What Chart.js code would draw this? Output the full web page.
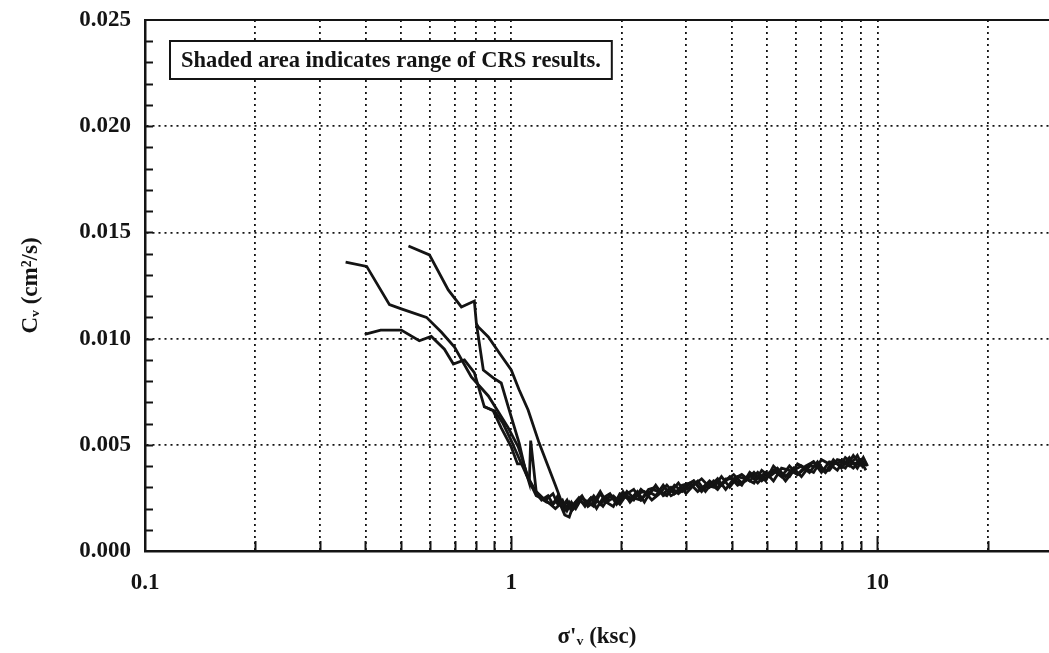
<!DOCTYPE html>
<html>
<head>
<meta charset="utf-8">
<title>Cv vs effective vertical stress</title>
<script src="https://cdn.jsdelivr.net/npm/chart.js@4.4.1/dist/chart.umd.min.js"></script>
<style>
  html, body { margin: 0; padding: 0; background: #fff; overflow: hidden; }
  #wrap { width: 1049px; height: 653px; }
</style>
</head>
<body>
<div id="wrap"><canvas id="cv-chart" width="1049" height="653"></canvas></div>
<script>
(function () {
  "use strict";

  const INK = "#141414";
  const SERIF = '"Liberation Serif", "DejaVu Serif", serif';

  // axes (sigma'v in ksc on a log axis, Cv in cm2/s)
  const X_MIN = 0.1;
  const X_MAX = 29.4; // plot is cut at the right edge of the page
  const X_GRID = [0.1, 0.2, 0.3, 0.4, 0.5, 0.6, 0.7, 0.8, 0.9, 1, 2, 3, 4, 5, 6, 7, 8, 9, 10, 20];
  const X_TICK_VALUES = [0.1, 1, 10];
  const X_TICK_LABELS = ["0.1", "1", "10"];
  const Y_MIN = 0;
  const Y_MAX = 0.025;
  const Y_MINOR_STEP = 0.001;
  const Y_MAJOR_STEP = 0.005;
  const Y_TICK_LABELS = ["0.000", "0.005", "0.010", "0.015", "0.020", "0.025"];

  const NOTE_TEXT = "Shaded area indicates range of CRS results.";

  // CRS curves. Each curve = a descending head + a noisy tail.
  // Two sampling grids for the tails so the traces do not all break at the same stresses.
  const FLAT_SIGMA_A = [1.30, 1.34, 1.38, 1.42, 1.46, 1.50, 1.56, 1.62, 1.68, 1.75,
    1.82, 1.90, 1.98, 2.07, 2.16, 2.26, 2.37, 2.48, 2.60, 2.73,
    2.86, 3.00, 3.15, 3.31, 3.48, 3.66, 3.85, 4.05, 4.26, 4.48,
    4.71, 4.95, 5.20, 5.47, 5.75, 6.05, 6.36, 6.69, 7.03, 7.39,
    7.77, 8.17, 8.59, 9.03, 9.30];
  const FLAT_SIGMA_B = [1.32, 1.36, 1.40, 1.44, 1.48, 1.53, 1.59, 1.65, 1.71, 1.78,
    1.86, 1.94, 2.02, 2.11, 2.21, 2.31, 2.42, 2.54, 2.66, 2.79,
    2.93, 3.07, 3.23, 3.39, 3.57, 3.75, 3.95, 4.15, 4.37, 4.60,
    4.83, 5.07, 5.33, 5.61, 5.90, 6.20, 6.52, 6.86, 7.21, 7.58,
    7.97, 8.38, 8.81, 9.15, 9.40];

  const C1_SIGMA = [0.353, 0.403, 0.465, 0.501, 0.587, 0.645, 0.700, 0.778, 0.866, 0.981, 1.045, 1.13, 1.21, 1.26];
  const C1_CV = [0.0136, 0.0134, 0.0116, 0.0114, 0.0110, 0.0103, 0.0096, 0.0082, 0.0073, 0.0058, 0.0049, 0.0031, 0.0024, 0.0026];
  const C1_FLAT = [0.0022, 0.0026, 0.0021, 0.0024, 0.0019, 0.0023, 0.0026, 0.0021, 0.0023, 0.0028,
    0.0023, 0.0021, 0.0027, 0.0026, 0.0024, 0.0029, 0.0026, 0.0031, 0.0026, 0.0028,
    0.0032, 0.0027, 0.0031, 0.0034, 0.0030, 0.0034, 0.0029, 0.0034, 0.0036, 0.0033,
    0.0037, 0.0033, 0.0040, 0.0036, 0.0035, 0.0041, 0.0039, 0.0037, 0.0043, 0.0041,
    0.0038, 0.0044, 0.0041, 0.0042, 0.0038];

  const C2_SIGMA = [0.398, 0.440, 0.501, 0.561, 0.605, 0.657, 0.695, 0.745, 0.793, 0.844,
    0.893, 0.939, 1.00, 1.04, 1.08, 1.12, 1.13, 1.17, 1.22, 1.26];
  const C2_CV = [0.0102, 0.0104, 0.0104, 0.0099, 0.0101, 0.0095, 0.0088, 0.0090, 0.0084, 0.0068,
    0.0066, 0.0058, 0.0049, 0.0041, 0.0041, 0.0032, 0.0052, 0.0028, 0.0025, 0.0023];
  const C2_FLAT = [0.0020, 0.0022, 0.0017, 0.0016, 0.0022, 0.0025, 0.0021, 0.0025, 0.0024, 0.0021,
    0.0026, 0.0023, 0.0028, 0.0023, 0.0027, 0.0028, 0.0024, 0.0027, 0.0031, 0.0027,
    0.0031, 0.0032, 0.0028, 0.0031, 0.0030, 0.0035, 0.0030, 0.0035, 0.0034, 0.0032,
    0.0038, 0.0035, 0.0038, 0.0033, 0.0038, 0.0040, 0.0037, 0.0042, 0.0037, 0.0041,
    0.0042, 0.0040, 0.0045, 0.0039];

  const C3_SIGMA = [0.524, 0.598, 0.673, 0.731, 0.793, 0.803, 0.839, 0.893, 0.939, 0.987, 1.051, 1.10, 1.17, 1.24];
  const C3_CV = [0.01436, 0.01394, 0.01229, 0.01149, 0.01177, 0.01073, 0.00852, 0.00815, 0.00791, 0.00664,
    0.00508, 0.0036, 0.0026, 0.0024];
  const C3_FLAT = [0.0027, 0.0022, 0.0024, 0.0019, 0.0023, 0.0020, 0.0025, 0.0023, 0.0021, 0.0027,
    0.0023, 0.0025, 0.0022, 0.0027, 0.0029, 0.0024, 0.0028, 0.0026, 0.0031, 0.0026,
    0.0028, 0.0031, 0.0033, 0.0028, 0.0032, 0.0029, 0.0034, 0.0034, 0.0031, 0.0037,
    0.0034, 0.0037, 0.0033, 0.0039, 0.0038, 0.0036, 0.0040, 0.0042, 0.0038, 0.0038,
    0.0043, 0.0042, 0.0039, 0.0043, 0.0040];

  const C4_SIGMA = [0.803, 0.813, 0.866, 0.930, 1.00, 1.05, 1.112, 1.192, 1.26];
  const C4_CV = [0.0107, 0.01055, 0.01008, 0.0093, 0.00852, 0.0076, 0.00664, 0.00508, 0.0040];
  const C4_FLAT = [0.0031, 0.0025, 0.0019, 0.0023, 0.0020, 0.0024, 0.0022, 0.0025, 0.0020, 0.0025,
    0.0027, 0.0022, 0.0026, 0.0024, 0.0028, 0.0023, 0.0029, 0.0028, 0.0026, 0.0031,
    0.0028, 0.0030, 0.0033, 0.0028, 0.0033, 0.0031, 0.0035, 0.0031, 0.0033, 0.0037,
    0.0033, 0.0036, 0.0039, 0.0035, 0.0039, 0.0035, 0.0040, 0.0040, 0.0037, 0.0043,
    0.0039, 0.0044, 0.0039, 0.0044, 0.0040];

  const C5_SIGMA = [0.840, 0.900, 0.950, 1.00, 1.06, 1.10, 1.15, 1.20, 1.25];
  const C5_CV = [0.0068, 0.0066, 0.0060, 0.0052, 0.0042, 0.0036, 0.0030, 0.0025, 0.0023];
  const C5_FLAT = [0.0022, 0.0024, 0.0021, 0.0023, 0.0019, 0.0021, 0.0025, 0.0022, 0.0026, 0.0022,
    0.0025, 0.0026, 0.0023, 0.0028, 0.0025, 0.0024, 0.0029, 0.0030, 0.0027, 0.0030,
    0.0027, 0.0030, 0.0033, 0.0029, 0.0033, 0.0030, 0.0033, 0.0036, 0.0032, 0.0036,
    0.0032, 0.0036, 0.0038, 0.0035, 0.0040, 0.0036, 0.0039, 0.0042, 0.0037, 0.0042,
    0.0041, 0.0039, 0.0045, 0.0040];

  function curve(headSigma, headCv, flatSigma, flatCv) {
    const pts = headSigma.map((s, i) => ({ x: s, y: headCv[i] }));
    flatCv.forEach((v, i) => pts.push({ x: flatSigma[i], y: v }));
    return pts;
  }

  const CURVES = [
    curve(C1_SIGMA, C1_CV, FLAT_SIGMA_A, C1_FLAT),
    curve(C2_SIGMA, C2_CV, FLAT_SIGMA_B, C2_FLAT),
    curve(C3_SIGMA, C3_CV, FLAT_SIGMA_A, C3_FLAT),
    curve(C4_SIGMA, C4_CV, FLAT_SIGMA_B, C4_FLAT),
    curve(C5_SIGMA, C5_CV, FLAT_SIGMA_A, C5_FLAT),
  ];

  const isYMajor = (v) => Math.abs(v / Y_MAJOR_STEP - Math.round(v / Y_MAJOR_STEP)) < 1e-6;
  const xTickIndex = (v) => X_TICK_VALUES.findIndex((t) => Math.abs(t - v) < 1e-9);

  // frame top line, inward tick marks and the note box
  const decorations = {
    id: "decorations",
    afterDatasetsDraw(chart) {
      const { ctx, chartArea: a, scales: { x, y } } = chart;
      ctx.save();
      ctx.strokeStyle = INK;
      ctx.lineWidth = 2;
      ctx.beginPath();
      ctx.moveTo(a.left - 1, a.top);
      ctx.lineTo(a.right, a.top);
      ctx.stroke();

      x.ticks.forEach((t) => {
        const px = Math.round(x.getPixelForValue(t.value)) + 0.5;
        if (px <= a.left + 2) return;
        const len = xTickIndex(t.value) >= 0 ? 15 : 10;
        ctx.beginPath();
        ctx.moveTo(px, a.bottom);
        ctx.lineTo(px, a.bottom - len);
        ctx.stroke();
      });
      y.ticks.forEach((t) => {
        const py = Math.round(y.getPixelForValue(t.value)) + 0.5;
        if (py >= a.bottom - 2 || py <= a.top + 2) return;
        ctx.beginPath();
        ctx.moveTo(a.left, py);
        ctx.lineTo(a.left + 8, py);
        ctx.stroke();
      });

      ctx.font = "bold 22.5px " + SERIF;
      ctx.textBaseline = "middle";
      const w = ctx.measureText(NOTE_TEXT).width;
      const bx = a.left + 25, by = a.top + 21;
      ctx.lineWidth = 2;
      ctx.fillStyle = "#fff";
      ctx.fillRect(bx, by, w + 22, 38);
      ctx.strokeRect(bx, by, w + 22, 38);
      ctx.fillStyle = INK;
      ctx.fillText(NOTE_TEXT, bx + 11, by + 20);
      ctx.restore();
    },
  };

  const tickFont = { family: SERIF, size: 23, weight: "bold" };

  new Chart(document.getElementById("cv-chart"), {
    type: "line",
    data: {
      datasets: CURVES.map((pts, i) => ({
        label: "CRS " + (i + 1),
        data: pts,
        borderColor: INK,
        borderWidth: 2.8,
        pointRadius: 0,
        tension: 0,
        fill: false,
      })),
    },
    options: {
      responsive: false,
      animation: false,
      devicePixelRatio: 1,
      layout: { padding: { top: 20, right: 0, left: 0, bottom: 0 } },
      plugins: { legend: { display: false }, tooltip: { enabled: false } },
      scales: {
        x: {
          type: "logarithmic",
          min: X_MIN,
          max: X_MAX,
          afterBuildTicks: (scale) => { scale.ticks = X_GRID.map((v) => ({ value: v })); },
          afterFit: (scale) => { scale.height = 102; scale.paddingLeft = 0; scale.paddingRight = 0; },
          ticks: {
            autoSkip: false,
            maxRotation: 0,
            padding: 18,
            color: INK,
            font: tickFont,
            callback: (v) => { const k = xTickIndex(v); return k >= 0 ? X_TICK_LABELS[k] : ""; },
          },
          grid: {
            drawTicks: false,
            lineWidth: 1.8,
            color: (c) => (c.tick && c.tick.value > X_MIN + 1e-9 ? INK : "rgba(0,0,0,0)"),
          },
          border: { display: true, color: INK, width: 2.5, dash: [2, 4] },
          title: {
            display: true,
            text: "σ'ᵥ (ksc)",
            color: INK,
            font: { family: SERIF, size: 23, weight: "bold" },
            padding: { top: 0, bottom: 2 },
          },
        },
        y: {
          min: Y_MIN,
          max: Y_MAX,
          afterFit: (scale) => { scale.width = 145; scale.paddingTop = 0; scale.paddingBottom = 0; },
          ticks: {
            stepSize: Y_MINOR_STEP,
            autoSkip: false,
            padding: 14,
            color: INK,
            font: tickFont,
            callback: (v) => (isYMajor(v) ? Y_TICK_LABELS[Math.round(v / Y_MAJOR_STEP)] : ""),
          },
          grid: {
            drawTicks: false,
            lineWidth: 1.8,
            color: (c) => {
              const v = c.tick ? c.tick.value : 0;
              return isYMajor(v) && v > Y_MIN + 1e-9 && v < Y_MAX - 1e-9 ? INK : "rgba(0,0,0,0)";
            },
          },
          border: { display: true, color: INK, width: 2.5, dash: [2, 4] },
          title: {
            display: true,
            text: "Cᵥ (cm²/s)",
            color: INK,
            font: { family: SERIF, size: 23, weight: "bold" },
            padding: { top: 17, bottom: 0 },
          },
        },
      },
    },
    plugins: [decorations],
  });
})();
</script>
</body>
</html>
